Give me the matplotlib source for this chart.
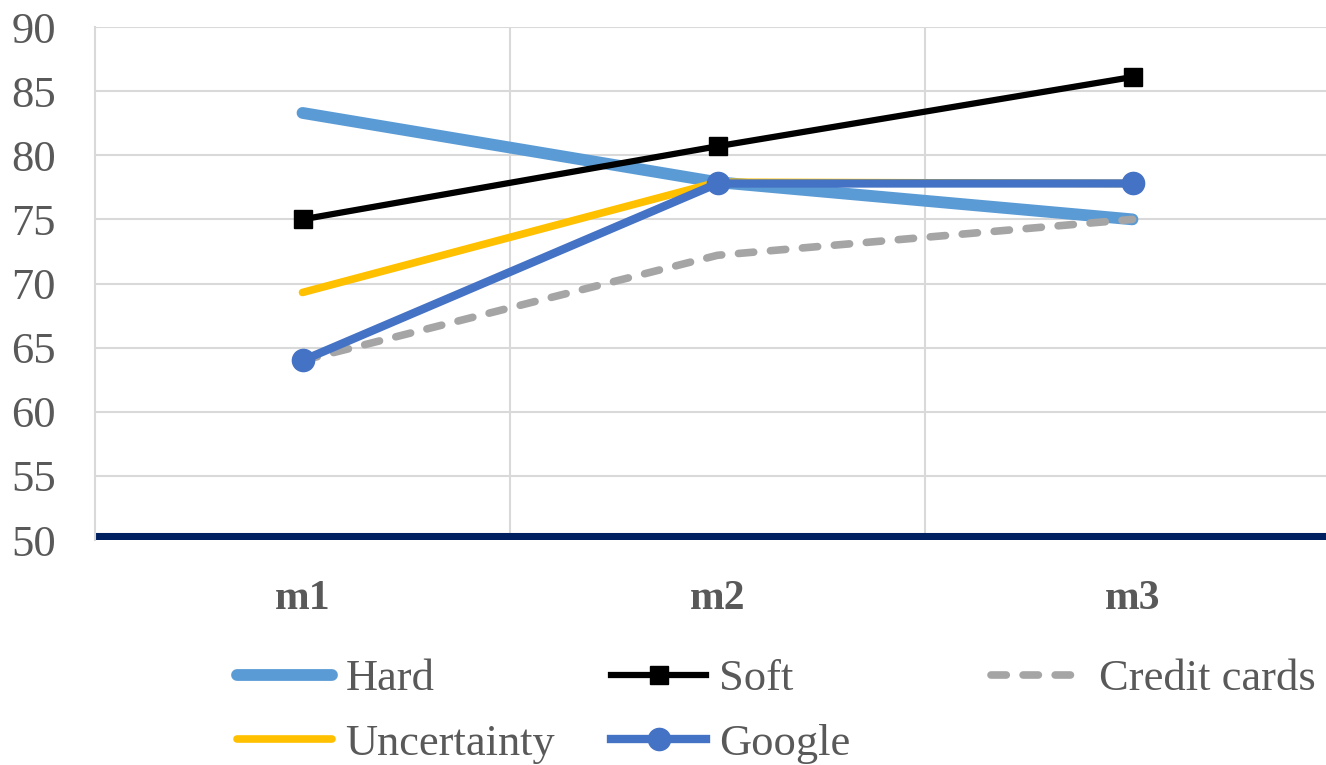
import matplotlib.pyplot as plt
import numpy as np

# series values per measurement
categories = ['m1', 'm2', 'm3']
hard = [83.3, 77.9, 75.0]
soft = [75.0, 80.7, 86.1]
creditCards = [64.0, 72.2, 75.0]
uncertainty = [69.3, 77.9, 77.8]
google = [64.0, 77.8, 77.8]

yTicks = [50, 55, 60, 65, 70, 75, 80, 85, 90]

TEXT_COLOR = '#595959'
GRID_COLOR = '#d9d9d9'

plt.rcParams['font.family'] = ['Liberation Serif', 'DejaVu Serif']

fig = plt.figure(figsize=(13.26, 7.65), dpi=100)
ax = fig.add_axes([95 / 1326, 1 - 540 / 765, 1245 / 1326, 513 / 765])

x = np.arange(len(categories))

hardLine, = ax.plot(x, hard, color='#5B9BD5', lw=8.5, solid_capstyle='round', zorder=3)
softLine, = ax.plot(x, soft, color='black', lw=4.5, marker='s', markersize=13, zorder=4)
creditLine, = ax.plot(x, creditCards, color='#A5A5A5', lw=5.5, dashes=(2.0, 2.2),
                      dash_capstyle='round', zorder=5)
uncertaintyLine, = ax.plot(x, uncertainty, color='#FFC000', lw=5.5, solid_capstyle='round', zorder=6)
googleLine, = ax.plot(x, google, color='#4472C4', lw=6, marker='o', markersize=16, zorder=7)

ax.set_xlim(-0.5, 2.5)
ax.set_ylim(50, 90)
ax.set_yticks(yTicks)
ax.set_xticks(x)
ax.set_xticklabels(categories, fontsize=30, fontweight='bold', color=TEXT_COLOR)
ax.tick_params(axis='x', length=0, pad=29)
ax.tick_params(axis='y', length=0, pad=28, labelsize=32, labelcolor=TEXT_COLOR)

# horizontal gridlines and category separators
for yVal in yTicks[1:]:
    ax.axhline(yVal, color=GRID_COLOR, lw=1.5, zorder=1)
for xVal in [0.5, 1.5]:
    ax.axvline(xVal, color=GRID_COLOR, lw=1.5, zorder=1)
ax.axhline(50.25, color='#002060', lw=5.8, zorder=2)

for side in ['top', 'right', 'bottom']:
    ax.spines[side].set_visible(False)
ax.spines['left'].set_color(GRID_COLOR)
ax.spines['left'].set_linewidth(1.5)

# legend laid out as three fixed-width columns
legendColumns = [
    ([hardLine, uncertaintyLine], ['Hard', 'Uncertainty'], 237),
    ([softLine, googleLine], ['Soft', 'Google'], 611),
    ([creditLine], ['Credit cards'], 991),
]
for handles, labels, xPix in legendColumns:
    leg = fig.legend(handles, labels, loc='upper left', bbox_to_anchor=(xPix / 1326, 1 - 659 / 765),
                     frameon=False, fontsize=32, handlelength=2.14, handletextpad=0.3,
                     labelspacing=0.55, borderaxespad=0, borderpad=0)
    for text in leg.get_texts():
        text.set_color(TEXT_COLOR)

fig.savefig('out.png', dpi=100)
